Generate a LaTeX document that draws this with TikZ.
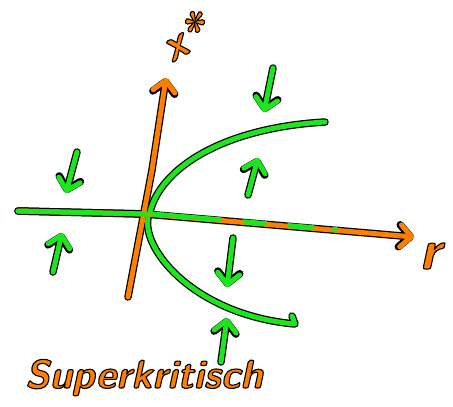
\documentclass[tikz,border=0pt]{standalone}
\usetikzlibrary{arrows.meta}
\definecolor{skorange}{RGB}{255,128,0}
\definecolor{skgreen}{RGB}{30,230,30}
% outlined text: fill and stroke, black rim
\newcommand{\inked}[1]{\special{pdf:literal direct 2 Tr 1.1 w 0 0 0 RG}#1\special{pdf:literal direct 0 Tr}}
\newcommand{\handfont}[1]{\fontsize{#1}{#1}\sffamily\bfseries\slshape\selectfont}

% every stroke of the sketch, drawn once as black rim and once in colour
\newcommand{\sketchlines}{%
  \draw[axis,->] (128,297) -- (152,170) -- (166,78);
  \draw[axis,->] (18,211) -- (145,214) -- (414,237);
  \draw[branch] (18,211) -- (145,214);
  \draw[unstable] (152,214) -- (340,230);
  \draw[branch] (150,212) .. controls (160,170) and (220,128) .. (325,122);
  \draw[branch] (148,218) .. controls (142,250) and (195,315) .. (295,324) -- (292,316);
  % flow
  \draw[flow,->] (273,68) -- (264,112);
  \draw[flow,->] (248,195) -- (258,158);
  \draw[flow,->] (77,152) -- (66,193);
  \draw[flow,->] (53,272) -- (62,233);
  \draw[flow,->] (233,238) -- (227,287);
  \draw[flow,->] (221,362) -- (227,318);
}

\begin{document}
\begin{tikzpicture}[x=1pt,y=-1pt,
  >={Straight Barb[length=11pt,width=22pt,round]},
  ink/.style={line width=5pt,line cap=round,line join=round},
  rim/.style={ink,draw=black,line width=7.5pt},
  axis/.style={ink,draw=skorange},
  branch/.style={ink,draw=skgreen},
  flow/.style={ink,draw=skgreen},
  unstable/.style={ink,draw=skgreen,line cap=butt,
    dash pattern=on 70pt off 21pt on 24pt off 21pt on 27pt off 18pt on 5pt off 60pt},
  lbl/.style={text=skorange,inner sep=0pt}]
  \useasboundingbox (0,0) rectangle (453,407);

  \begin{scope}[axis/.style={rim},branch/.style={rim},flow/.style={rim},
      unstable/.style={draw=none}]
    \sketchlines
  \end{scope}
  \sketchlines

  \node[lbl,rotate=30,font=\handfont{46}] (xstar) at (184,36) {\inked{x*}};
  \node[lbl,font=\handfont{56}] (rname) at (430,256) {\inked{r}};
  \node[lbl,anchor=base west,font=\handfont{40}] (title) at (25,388)
    {\inked{Superkritisch}};
\end{tikzpicture}
\end{document}
